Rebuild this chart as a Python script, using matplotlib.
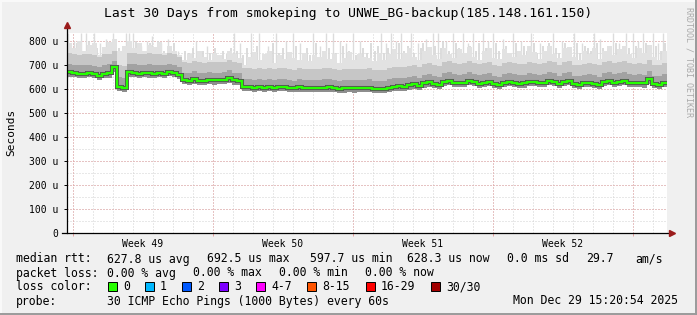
import numpy as np
import matplotlib
matplotlib.use("Agg")
import matplotlib.pyplot as plt
from matplotlib.patches import Rectangle
from matplotlib.lines import Line2D

# one sample every 6 hours over the last 30 days (values in microseconds)
median_rtt = [670, 667, 663, 664, 665, 662, 655, 664, 666, 690,
              610, 606, 670, 667, 664, 665, 666, 664, 665, 663,
              672, 666, 658, 636, 634, 640, 635, 634, 637, 636,
              636, 637, 645, 636, 634, 608, 607, 606, 608, 605,
              609, 604, 607, 608, 606, 603, 607, 605, 604, 606,
              604, 606, 607, 604, 600, 603, 605, 603, 604, 605,
              606, 602, 600, 601, 606, 610, 611, 610, 615, 620,
              611, 624, 628, 620, 616, 630, 635, 626, 624, 627,
              635, 628, 622, 626, 629, 620, 616, 626, 630, 626,
              621, 623, 630, 628, 624, 626, 633, 631, 620, 631,
              633, 620, 617, 624, 626, 622, 616, 630, 634, 627,
              631, 633, 626, 624, 627, 623, 640, 620, 618, 626]

rtt_low = [652, 650, 646, 645, 648, 645, 638, 647, 647, 672,
           592, 588, 651, 650, 646, 648, 647, 646, 648, 645,
           653, 648, 640, 619, 616, 622, 618, 616, 620, 618,
           619, 620, 626, 618, 617, 590, 590, 588, 591, 587,
           592, 586, 590, 591, 588, 586, 589, 587, 587, 588,
           586, 589, 589, 587, 583, 585, 588, 585, 586, 588,
           588, 585, 583, 583, 588, 593, 593, 593, 597, 602,
           594, 606, 610, 603, 599, 612, 617, 609, 607, 610,
           617, 611, 605, 609, 611, 603, 599, 609, 612, 609,
           604, 606, 612, 611, 607, 609, 615, 613, 603, 613,
           615, 603, 600, 607, 609, 605, 599, 612, 616, 610,
           613, 615, 609, 607, 610, 606, 621, 603, 601, 609]

rtt_dark = [705, 700, 698, 702, 700, 697, 690, 701, 703, 718,
            650, 645, 705, 703, 700, 702, 704, 700, 702, 698,
            706, 701, 690, 668, 666, 673, 667, 665, 670, 668,
            668, 670, 678, 668, 666, 640, 641, 638, 642, 637,
            643, 636, 640, 641, 639, 635, 640, 637, 637, 639,
            636, 640, 641, 637, 633, 636, 638, 636, 637, 639,
            640, 635, 633, 634, 640, 645, 646, 645, 650, 656,
            646, 660, 664, 656, 651, 666, 671, 662, 660, 663,
            671, 664, 657, 662, 665, 656, 651, 662, 666, 662,
            657, 659, 666, 664, 660, 662, 669, 667, 656, 667,
            669, 656, 653, 660, 662, 658, 652, 666, 670, 663,
            667, 669, 662, 660, 663, 659, 676, 656, 654, 662]

rtt_mid = [748, 745, 742, 746, 744, 740, 735, 745, 747, 760,
           700, 695, 750, 748, 744, 746, 748, 744, 746, 742,
           750, 745, 735, 712, 710, 716, 711, 709, 714, 712,
           712, 714, 722, 712, 710, 686, 687, 684, 688, 683,
           689, 682, 686, 687, 685, 681, 686, 683, 683, 685,
           682, 686, 687, 683, 679, 682, 684, 682, 683, 685,
           686, 681, 679, 680, 686, 691, 692, 691, 696, 702,
           692, 706, 710, 702, 697, 712, 717, 708, 706, 709,
           717, 710, 703, 708, 711, 702, 697, 708, 712, 708,
           703, 705, 712, 710, 706, 708, 715, 713, 702, 713,
           715, 702, 699, 706, 708, 704, 698, 712, 716, 709,
           713, 715, 708, 706, 709, 705, 722, 702, 700, 708]

rtt_high = [790, 770, 800, 760, 785, 790, 740, 775, 795, 810,
            760, 780, 800, 770, 790, 760, 785, 775, 795, 750,
            780, 760, 740, 720, 745, 730, 760, 735, 720, 750,
            740, 725, 760, 745, 730, 700, 735, 755, 720, 745,
            760, 710, 740, 725, 755, 730, 720, 750, 715, 740,
            735, 760, 725, 745, 710, 730, 755, 720, 745, 735,
            730, 715, 750, 720, 745, 765, 725, 750, 770, 735,
            720, 760, 775, 740, 725, 770, 745, 730, 765, 750,
            775, 735, 720, 760, 770, 730, 725, 765, 750, 735,
            760, 740, 780, 755, 725, 760, 780, 745, 730, 770,
            775, 735, 720, 760, 745, 770, 725, 760, 780, 740,
            765, 780, 745, 730, 770, 750, 785, 735, 720, 760]

# single-ping outliers (day offset, top in us)
spike_day = [0.05, 0.35, 0.7, 0.95, 1.35, 1.65, 1.95, 2.3, 2.95, 3.1, 3.3, 3.7, 4.0,
             4.25, 4.7, 5.05, 5.55, 6.45, 7.0, 8.35, 8.65, 9.2, 9.6, 10.05, 10.45,
             10.95, 11.3, 11.65, 12.3, 12.65, 12.95, 13.3, 13.65, 13.95, 14.3, 14.65,
             15.7, 15.95, 16.2, 16.45, 16.7, 17.2, 17.55, 17.95, 18.3, 18.55, 18.95,
             19.3, 19.8, 20.05, 20.3, 20.8, 21.05, 21.3, 21.8, 22.3, 22.7, 23.2, 23.65,
             24.3, 24.75, 25.35, 25.75, 26.35, 26.65, 27.3, 27.6, 27.95, 28.3, 28.55,
             28.8, 29.3, 29.55, 29.8]
spike_top = [835, 800, 835, 835, 835, 790, 810, 835, 835, 835, 835, 780, 800,
             820, 790, 810, 760, 800, 780, 835, 790, 835, 835, 780, 835,
             800, 835, 790, 835, 780, 835, 835, 800, 790, 835, 800,
             835, 790, 835, 800, 835, 835, 790, 810, 835, 835, 800,
             835, 835, 790, 835, 835, 800, 835, 810, 835, 800, 835, 790,
             835, 800, 835, 790, 835, 810, 835, 790, 835, 835, 800,
             835, 835, 790, 835]

# smaller outliers
spike2_day = [0.2, 0.5, 0.85, 1.1, 1.5, 1.8, 2.1, 2.45, 2.6, 3.45, 3.85, 4.15, 4.4,
              4.55, 4.85, 5.2, 5.35, 5.7, 5.9, 6.1, 6.3, 6.6, 6.8, 7.15, 7.4, 7.6,
              7.8, 8.0, 8.2, 8.5, 8.8, 9.0, 9.35, 9.5, 9.8, 10.2, 10.3, 10.6, 10.8,
              11.1, 11.45, 11.8, 12.0, 12.15, 12.45, 12.8, 13.1, 13.45, 13.8, 14.1,
              14.45, 14.8, 15.0, 15.2, 15.4, 15.55, 15.85, 16.05, 16.35, 16.6, 16.85,
              17.05, 17.35, 17.7, 17.8, 18.1, 18.4, 18.7, 18.8, 19.1, 19.45, 19.6,
              19.95, 20.15, 20.45, 20.6, 20.95, 21.15, 21.45, 21.6, 21.95, 22.1, 22.45,
              22.55, 22.85, 23.0, 23.35, 23.5, 23.8, 23.95, 24.1, 24.45, 24.6, 24.9,
              25.05, 25.2, 25.5, 25.65, 25.9, 26.05, 26.2, 26.5, 26.8, 26.95, 27.1,
              27.45, 27.75, 28.1, 28.45, 28.7, 28.95, 29.1, 29.45, 29.7, 29.9]
spike2_top = [770, 790, 760, 800, 770, 760, 790, 750, 770, 800, 760, 790, 770,
              800, 760, 780, 790, 740, 760, 750, 770, 740, 760, 750, 770, 740,
              760, 745, 770, 760, 740, 770, 750, 780, 740, 760, 790, 750, 770,
              740, 780, 750, 770, 740, 790, 760, 770, 750, 780, 760,
              740, 770, 750, 790, 760, 780, 750, 770, 740, 790, 760,
              780, 750, 770, 790, 760, 780, 770, 800, 760, 790, 770,
              750, 780, 760, 790, 770, 750, 790, 760, 780, 750, 790,
              760, 780, 760, 790, 750, 780, 760, 790, 770, 750, 790,
              770, 760, 790, 750, 780, 770, 760, 790, 770, 750, 780,
              790, 760, 770, 780, 760, 790, 770, 780, 760, 790]

y_ticks = [0, 100, 200, 300, 400, 500, 600, 700, 800]
y_labels = ["0", "100 u", "200 u", "300 u", "400 u", "500 u", "600 u", "700 u", "800 u"]
week_labels = ["Week 49", "Week 50", "Week 51", "Week 52"]
week_start = [0.3, 7.3, 14.3, 21.3, 28.3]   # sundays, days since start

loss_labels = ["0", "1", "2", "3", "4-7", "8-15", "16-29", "30/30"]
loss_colors = ["#26ff00", "#00b8ff", "#0059ff", "#7e00ff", "#ff00ff", "#ff5500", "#ff0000", "#a10000"]

W, H = 697, 315
MONO = "DejaVu Sans Mono"
BG = "#f0f0f0"


def px(x, y):
    return x / W, 1 - y / H


fig = plt.figure(figsize=(W / 100, H / 100), dpi=100, facecolor=BG)
ax = fig.add_axes([67 / W, (H - 233) / H, 600 / W, 200 / H])
ax.set_facecolor("white")
ax.set_xlim(0, 30)
ax.set_ylim(0, 833.3)

# grid
for d in range(31):
    ax.axvline(0.3 + d, color="#d2d2d2", lw=0.72, ls=(0, (1, 2)), zorder=0)
for v in range(50, 850, 50):
    ax.axhline(v, color="#d2d2d2", lw=0.72, ls=(0, (1, 2)), zorder=0)
for d in week_start:
    ax.axvline(d, color="#e6a0a0", lw=0.72, ls=(0, (1, 2)), zorder=0.5)
for v in y_ticks[1:]:
    ax.axhline(v, color="#e6a0a0", lw=0.72, ls=(0, (1, 2)), zorder=0.5)

edges = np.arange(len(median_rtt) + 1) * 0.25
step = edges[1] - edges[0]


def base_at(days):
    return [rtt_mid[min(int(d / step), len(rtt_mid) - 1)] for d in days]


# outlier spikes
ax.vlines(spike2_day, base_at(spike2_day), spike2_top, color="#d6d6d6", lw=1.2, zorder=1)
ax.vlines(spike_day, base_at(spike_day), spike_top, color="#dcdcdc", lw=1.0, zorder=1)

# smoke
ax.stairs(rtt_high, edges, baseline=rtt_mid, fill=True, color="#e2e2e2", lw=0, zorder=2)
ax.stairs(rtt_mid, edges, baseline=rtt_dark, fill=True, color="#c6c6c6", lw=0, zorder=2)
ax.stairs(rtt_dark, edges, baseline=median_rtt, fill=True, color="#a2a2a2", lw=0, zorder=2)
ax.stairs(median_rtt, edges, baseline=rtt_low, fill=True, color="#8e8e8e", lw=0, zorder=2)

# median line with dark halo
ax.stairs(median_rtt, edges, baseline=None, color="#555555", lw=2.9, zorder=3)
ax.stairs(median_rtt, edges, baseline=None, color="#26ff00", lw=1.6, zorder=4)

# axes
for s in ["top", "right", "left", "bottom"]:
    ax.spines[s].set_visible(False)
ax.plot([-0.008, 1.006], [0, 0], transform=ax.transAxes, color="black", lw=0.9, clip_on=False, zorder=5)
ax.plot([0, 0], [0, 1.03], transform=ax.transAxes, color="black", lw=0.9, clip_on=False, zorder=5)
ax.plot([1.009], [0], marker=">", ms=4, color="#9b1c1c", transform=ax.transAxes, clip_on=False, zorder=6)
ax.plot([0], [1.04], marker="^", ms=4, color="#9b1c1c", transform=ax.transAxes, clip_on=False, zorder=6)

ax.set_yticks(y_ticks)
ax.set_yticklabels(y_labels, fontfamily=MONO, fontsize=7)
ax.tick_params(axis="y", length=2.5, width=0.7, pad=3.6)
ax.set_xticks(week_start)
ax.set_xticklabels([])
ax.tick_params(axis="x", which="major", length=2, width=0.7, color="#e6a0a0")
ax.set_xticks([d + 3.5 for d in week_start[:4]], minor=True)
ax.set_xticklabels(week_labels, minor=True, fontfamily=MONO, fontsize=7)
ax.tick_params(axis="x", which="minor", length=0, pad=4)

# texts
fig.text(*px(348, 13), "Last 30 Days from smokeping to UNWE_BG-backup(185.148.161.150)",
         ha="center", va="center", fontfamily=MONO, fontsize=9.4)
fig.text(*px(11, 132), "Seconds", rotation=90, ha="center", va="center", fontfamily=MONO, fontsize=8)
fig.text(*px(689, 62), "RRDTOOL / TOBI OETIKER", rotation=270, ha="center", va="center",
         fontfamily=MONO, fontsize=6, color="#aaaaaa")

leg_fs = 8.3
rows = [
    (259, [(16, "median rtt:"), (107, "627.8 us avg"), (207, "692.5 us max"), (310, "597.7 us min"),
           (407, "628.3 us now"), (507, "0.0 ms sd"), (586, "29.7"), (635, "am/s")]),
    (273, [(16, "packet loss:"), (107, "0.00 % avg"), (193, "0.00 % max"), (279, "0.00 % min"),
           (365, "0.00 % now")]),
    (301, [(16, "probe:"), (107, "30 ICMP Echo Pings (1000 Bytes) every 60s"),
           (513, "Mon Dec 29 15:20:54 2025")]),
]
for y, items in rows:
    for x, s in items:
        fig.text(*px(x, y), s, ha="left", va="center", fontfamily=MONO, fontsize=leg_fs)

fig.text(*px(16, 287), "loss color:", ha="left", va="center", fontfamily=MONO, fontsize=leg_fs)
box_x = [108, 145, 182, 219, 256, 307, 366, 431]
for bx, lab, col in zip(box_x, loss_labels, loss_colors):
    fig.patches.append(Rectangle(px(bx, 291), 9 / W, 9 / H, transform=fig.transFigure,
                                 facecolor=col, edgecolor="black", lw=0.7))
    fig.text(*px(bx + 15, 287), lab, ha="left", va="center", fontfamily=MONO, fontsize=leg_fs)

# image frame
fig.add_artist(Line2D([0, 1], [1 - 0.5 / H, 1 - 0.5 / H], color="#fafafa", lw=1.4))
fig.add_artist(Line2D([0.5 / W, 0.5 / W], [0, 1], color="#fafafa", lw=1.4))
fig.add_artist(Line2D([0, 1], [1 / H, 1 / H], color="#9a9a9a", lw=1.4))
fig.add_artist(Line2D([1 - 1 / W, 1 - 1 / W], [0, 1], color="#9a9a9a", lw=1.4))

fig.savefig("out.png", dpi=100, facecolor=BG)
